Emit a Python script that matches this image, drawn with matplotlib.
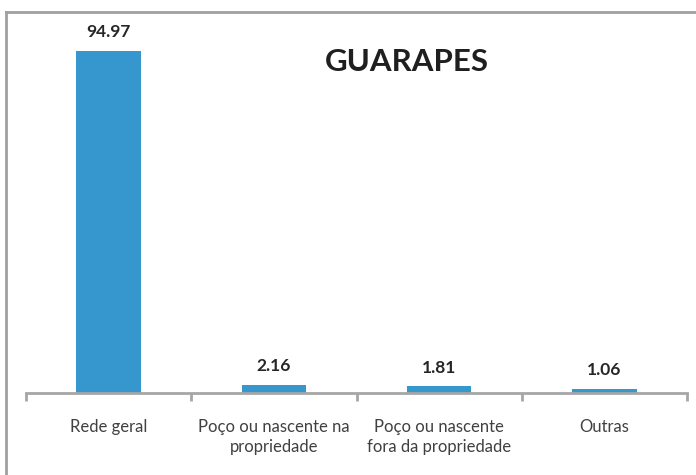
import matplotlib.pyplot as plt
import numpy as np
from matplotlib.lines import Line2D

categories = ["Rede geral", "Poço ou nascente na\npropriedade",
              "Poço ou nascente\nfora da propriedade", "Outras"]
values = [94.97, 2.16, 1.81, 1.06]
title = "GUARAPES"

BAR_COLOR = "#3697CE"
AXIS_COLOR = "#A6A6A6"

plt.rcParams["font.family"] = ["Lato", "DejaVu Sans"]

fig = plt.figure(figsize=(6.96, 4.75), dpi=100)
ax = fig.add_axes([26 / 696, 1 - 393 / 475, (687 - 26) / 696, (393 - 33) / 475])

x = np.arange(len(categories))
ax.bar(x, values, width=0.39, color=BAR_COLOR, zorder=2)
for xi, v in zip(x, values):
    ax.text(xi, v + 3.0, f"{v:.2f}", ha="center", va="bottom",
            fontsize=12.5, fontweight="bold", color="#262626")

ax.set_xlim(-0.5, len(categories) - 0.5)
ax.set_ylim(0, 100)
ax.set_yticks([])
for s in ["top", "right", "left"]:
    ax.spines[s].set_visible(False)
ax.spines["bottom"].set_color(AXIS_COLOR)
ax.spines["bottom"].set_linewidth(2)

ax.set_xticks(x)
ax.set_xticklabels(categories, fontsize=12, color="#404040", linespacing=1.25)
ax.tick_params(axis="x", which="major", length=0, pad=19)
ax.set_xticks(np.arange(-0.5, len(categories)), minor=True)
ax.tick_params(axis="x", which="minor", length=6, width=2, color=AXIS_COLOR)

ax.text(0.576, 0.919, title, transform=ax.transAxes, ha="center", va="center",
        fontsize=22.5, fontweight="bold", color="#1F1F1F")

# chart frame (top and left edges visible)
fig.add_artist(Line2D([6 / 696, 6 / 696], [0, 1 - 12 / 475],
                      transform=fig.transFigure, color="#A0A0A0", lw=2))
fig.add_artist(Line2D([6 / 696, 1], [1 - 12 / 475, 1 - 12 / 475],
                      transform=fig.transFigure, color="#A0A0A0", lw=2))

fig.savefig("out.png", dpi=100)
